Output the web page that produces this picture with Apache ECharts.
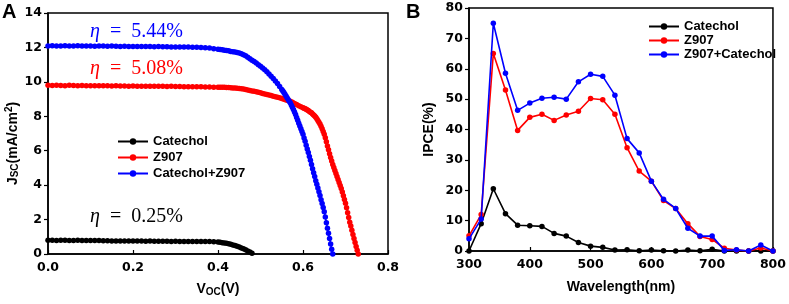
<!DOCTYPE html>
<html><head><meta charset="utf-8">
<script src="https://cdn.jsdelivr.net/npm/echarts@6/dist/echarts.min.js"></script>
<style>html,body{margin:0;padding:0;background:#fff}#c{width:789px;height:304px}</style>
</head><body><div id="c"></div>
<script>
// ---- Panel A: J-V curves ----
const vCommon = [0.00,0.01,0.02,0.03,0.04,0.05,0.06,0.07,0.08,0.09,0.10,0.11,0.12,0.13,0.14,0.15,0.16,0.17,0.18,0.19,0.20,0.21,0.22,0.23,0.24,0.25,0.26,0.27,0.28,0.29,0.30,0.31,0.32,0.33,0.34,0.35,0.36,0.37,0.38,0.39];
const vCatechol = [0.400,0.405,0.410,0.415,0.420,0.425,0.430,0.435,0.440,0.445,0.450,0.455,0.460,0.465,0.470,0.475,0.480];
const jCatechol = [0.80,0.80,0.79,0.80,0.80,0.79,0.79,0.80,0.79,0.78,0.78,0.78,0.78,0.77,0.77,0.76,0.76,0.76,0.75,0.75,0.75,0.75,0.75,0.74,0.75,0.74,0.74,0.74,0.74,0.73,0.74,0.73,0.73,0.73,0.73,0.72,0.72,0.72,0.72,0.71,
  0.70,0.68,0.66,0.64,0.62,0.59,0.56,0.53,0.49,0.45,0.40,0.35,0.30,0.24,0.18,0.11,0.04];
const vZ907 = [0.400,0.405,0.410,0.415,0.420,0.425,0.430,0.435,0.440,0.445,0.450,0.455,0.460,0.465,0.470,0.475,0.480,0.485,0.490,0.495,0.500,0.505,0.510,0.515,0.520,0.525,0.530,0.535,0.540,0.545,0.550,0.555,0.560,0.565,0.570,0.575,0.580,0.585,0.590,0.595,
  0.6000,0.6025,0.6050,0.6075,0.6100,0.6125,0.6150,0.6175,0.6200,0.6225,0.6250,0.6275,0.6300,0.6325,0.6350,0.6375,0.6400,0.6425,0.6450,0.6475,0.6500,0.6525,0.6550,0.6575,0.6600,0.6625,0.6650,0.6675,0.6700,0.6725,0.6750,0.6775,0.6800,0.6825,0.6850,0.6875,0.6900,0.6925,0.6950,0.6975,0.7000,0.7025,0.7050,0.7075,0.7100,0.7125,0.7150,0.7175,0.7200,0.7225,0.7250,0.7275,0.7300];
const jZ907 = [9.80,9.79,9.80,9.79,9.78,9.80,9.79,9.78,9.79,9.78,9.78,9.77,9.78,9.77,9.77,9.76,9.77,9.76,9.76,9.75,9.76,9.75,9.75,9.75,9.74,9.75,9.74,9.74,9.73,9.74,9.73,9.73,9.72,9.72,9.72,9.71,9.71,9.70,9.70,9.69,
  9.69,9.69,9.68,9.68,9.67,9.67,9.66,9.65,9.64,9.63,9.62,9.60,9.58,9.56,9.53,9.50,9.47,9.45,9.42,9.39,9.36,9.33,9.30,9.27,9.24,9.21,9.17,9.14,9.10,9.07,9.03,8.99,8.95,8.91,8.87,8.81,8.74,8.68,8.61,8.56,
  8.50,8.47,8.44,8.41,8.37,8.33,8.28,8.24,8.20,8.14,8.08,8.02,7.95,7.86,7.76,7.66,7.55,7.42,7.28,7.12,6.95,6.75,6.52,6.28,6.05,5.82,5.60,5.40,5.20,5.02,4.85,4.68,4.50,4.33,4.15,3.98,3.80,3.60,3.38,3.17,2.95,2.68,2.40,2.12,1.85,1.62,1.38,1.14,0.90,0.67,0.44,0.22,0.00];
const vCatZ907 = [0.400,0.405,0.410,0.415,0.420,0.425,0.430,0.435,0.440,0.445,0.450,0.455,0.460,0.465,0.470,0.475,0.480,0.485,0.490,0.495,0.500,0.505,0.510,0.515,0.520,0.525,0.530,0.535,0.540,0.545,
  0.5500,0.5525,0.5550,0.5575,0.5600,0.5625,0.5650,0.5675,0.5700,0.5725,0.5750,0.5775,0.5800,0.5825,0.5850,0.5875,0.5900,0.5925,0.5950,0.5975,0.6000,0.6025,0.6050,0.6075,0.6100,0.6125,0.6150,0.6175,0.6200,0.6225,0.6250,0.6275,0.6300,0.6325,0.6350,0.6375,0.6400,0.6425,0.6450,0.6475,0.6500,0.6525,0.6550,0.6575,0.6600,0.6625,0.6650,0.6675,0.6700];
const jCatZ907 = [12.08,12.10,12.09,12.08,12.10,12.09,12.08,12.10,12.08,12.09,12.08,12.07,12.09,12.08,12.07,12.08,12.07,12.06,12.07,12.06,12.06,12.05,12.06,12.05,12.05,12.04,12.05,12.04,12.04,12.03,12.03,12.03,12.02,12.02,12.01,12.01,12.00,11.98,11.96,11.93,
  11.90,11.88,11.86,11.84,11.82,11.80,11.77,11.75,11.73,11.71,11.68,11.63,11.58,11.51,11.43,11.34,11.25,11.18,11.10,11.00,10.90,10.80,10.70,10.58,10.45,10.33,10.20,10.05,9.90,9.73,
  9.55,9.47,9.38,9.28,9.18,9.08,8.98,8.88,8.78,8.66,8.53,8.40,8.25,8.10,7.93,7.77,7.60,7.44,7.28,7.12,6.95,6.74,6.55,6.32,6.10,5.90,5.66,5.44,5.20,4.95,4.72,4.50,4.25,4.05,3.84,3.62,3.40,3.15,2.93,2.70,2.45,2.15,1.82,1.50,1.20,0.90,0.58,0.28,0.00];
const jvNames = ['Catechol','Z907','Catechol+Z907'];
const etaLabels = ['η  =  0.25%','η  =  5.08%','η  =  5.44%'];

// ---- Panel B: IPCE spectra ----
const wavelength = [300,320,340,360,380,400,420,440,460,480,500,520,540,560,580,600,620,640,660,680,700,720,740,760,780,800];
const ipceCatechol = [0.0,9.0,20.5,12.3,8.5,8.3,8.1,5.8,4.9,2.8,1.6,1.2,0.3,0.4,0.1,0.3,0.1,0.0,0.3,0.1,0.6,0.0,0.0,0.0,0.0,0.0];
const ipceZ907 = [5.0,12.0,65.0,53.0,39.7,44.0,45.0,43.0,44.8,46.0,50.2,49.8,45.0,34.0,26.3,23.0,16.6,14.0,9.0,4.8,3.8,0.9,0.3,0.0,1.0,0.0];
const ipceZ907Cat = [4.0,10.5,75.0,58.5,46.3,48.7,50.3,50.6,50.0,55.7,58.2,57.5,51.3,37.0,32.3,23.0,17.0,14.0,7.5,4.9,4.9,0.2,0.4,0.0,2.0,0.0];
const ipceNames = ['Catechol','Z907','Z907+Catechol'];

const colors = ['#000000','#ff0000','#0000ff'];
const pair = (xs, ys) => ys.map((y, i) => [xs[i], y]);

const tickFont = {fontFamily:'DejaVu Sans', fontWeight:'bold', fontSize:12.5, color:'#000'};
const titleFont = {fontFamily:'Liberation Sans', fontWeight:'bold', fontSize:14, color:'#000'};
const legendFont = {fontFamily:'Liberation Sans', fontWeight:'bold', fontSize:13, color:'#000'};
const axisLine = {show:true, onZero:false, lineStyle:{color:'#000', width:1.5}};

const chart = echarts.init(document.getElementById('c'), null, {renderer:'canvas'});
const jvX = [vCommon.concat(vCatechol), vCommon.concat(vZ907), vCommon.concat(vCatZ907)];
const jvSets = [jCatechol, jZ907, jCatZ907];
const ipceSets = [ipceCatechol, ipceZ907, ipceZ907Cat];
const etaTops = [207, 59, 22];

const etaText = (k) => ({type:'text', left:90, top:etaTops[k], z:10,
  style:{text:'{i|η}' + etaLabels[k].slice(1), fill:colors[k], font:'20px "Liberation Serif"',
    rich:{i:{fontStyle:'italic', fontSize:20, fontFamily:'Liberation Serif', fill:colors[k]}}}});

const option = {
  animation:false,
  backgroundColor:'#fff',
  grid:[
    {left:48, top:13, width:340, height:241, show:true, borderColor:'#000', borderWidth:1.5, containLabel:false},
    {left:469, top:8, width:306, height:243, show:true, borderColor:'#000', borderWidth:1.5, containLabel:false}
  ],
  xAxis:[
    {gridIndex:0, type:'value', min:0, max:0.8, interval:0.2,
     axisLine:axisLine, axisTick:{inside:true, length:4, lineStyle:{color:'#000', width:1.2}},
     axisLabel:Object.assign({margin:7, formatter:v=>v.toFixed(1)}, tickFont),
     splitLine:{show:false},
     name:'{n|V}{s|OC}{n|(V)}', nameLocation:'middle', nameGap:27,
     nameTextStyle:{rich:{n:titleFont, s:Object.assign({}, titleFont, {fontSize:10, padding:[6,0,0,0]})}}},
    {gridIndex:1, type:'value', min:300, max:800, interval:100,
     axisLine:axisLine, axisTick:{inside:true, length:4, lineStyle:{color:'#000', width:1.2}},
     axisLabel:Object.assign({margin:7}, tickFont),
     splitLine:{show:false},
     name:'Wavelength(nm)', nameLocation:'middle', nameGap:29, nameTextStyle:titleFont}
  ],
  yAxis:[
    {gridIndex:0, type:'value', min:0, max:14, interval:2,
     axisLine:axisLine, axisTick:{inside:false, length:4, lineStyle:{color:'#000', width:1.2}},
     axisLabel:Object.assign({margin:6}, tickFont),
     splitLine:{show:false},
     name:'{n|J}{s|SC}{n|(mA/cm}{p|2}{n|)}', nameLocation:'middle', nameGap:27, nameRotate:90,
     nameTextStyle:{padding:[0,0,0,-20], rich:{n:titleFont, s:Object.assign({}, titleFont, {fontSize:10, padding:[6,0,0,0]}), p:Object.assign({}, titleFont, {fontSize:10, padding:[0,0,6,0]})}}},
    {gridIndex:1, type:'value', min:0, max:80, interval:10,
     axisLine:axisLine, axisTick:{inside:false, length:4, lineStyle:{color:'#000', width:1.2}},
     axisLabel:Object.assign({margin:6}, tickFont),
     splitLine:{show:false},
     name:'IPCE(%)', nameLocation:'middle', nameGap:33, nameRotate:90, nameTextStyle:titleFont}
  ],
  legend:[
    {data:jvNames, left:112, top:130, orient:'vertical', itemWidth:30, itemHeight:8, itemGap:3,
     textStyle:legendFont, selectedMode:false},
    {data:ipceNames, left:643, top:15, orient:'vertical', itemWidth:30, itemHeight:8, itemGap:1,
     textStyle:legendFont, selectedMode:false}
  ],
  series:[
    ...jvNames.map((n, k) => ({
      name:n, type:'line', xAxisIndex:0, yAxisIndex:0,
      data:pair(jvX[k], jvSets[k]),
      symbol:'circle', symbolSize:5.5, showSymbol:true,
      lineStyle:{color:colors[k], width:1.5}, itemStyle:{color:colors[k]}, z:2+k
    })),
    ...ipceNames.map((n, k) => ({
      name:n, type:'line', xAxisIndex:1, yAxisIndex:1,
      data:pair(wavelength, ipceSets[k]),
      symbol:'circle', symbolSize:5.5, showSymbol:true,
      lineStyle:{color:colors[k], width:1.6}, itemStyle:{color:colors[k]}, z:2+k
    }))
  ],
  graphic:[
    {type:'text', left:2, top:2, style:{text:'A', font:'bold 20px "Liberation Sans"', fill:'#000'}},
    {type:'text', left:406, top:2, style:{text:'B', font:'bold 20px "Liberation Sans"', fill:'#000'}},
    etaText(2), etaText(1), etaText(0)
  ]
};
chart.setOption(option);
</script></body></html>
